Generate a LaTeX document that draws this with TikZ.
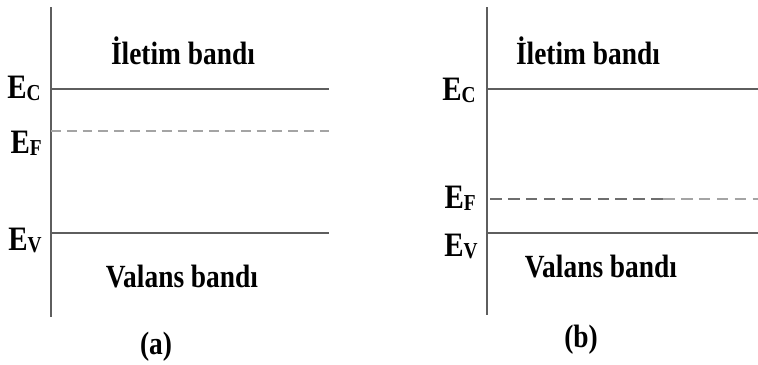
\documentclass[tikz,border=0pt]{standalone}
\usepackage{fontspec}
\setmainfont{Liberation Serif}
\definecolor{axisgray}{HTML}{5E5E5E}
\definecolor{dashgray}{HTML}{A4A4A4}
\definecolor{dashdark}{HTML}{6E6E6E}
\newcommand{\enlev}[1]{E\raisebox{-1.2pt}{\fontsize{11}{11}\selectfont #1}}

\begin{document}
\begin{tikzpicture}[x=0.02cm, y=-0.02cm,
    txt/.style={font=\fontsize{15.6}{18}\selectfont\bfseries, inner sep=0pt, yscale=1.18, transform shape},
    lvl/.style={txt, font=\fontsize{16.5}{18}\selectfont\bfseries, anchor=base east},
    band/.style={txt, anchor=base},
    axis/.style={draw=axisgray, line width=1.1pt},
    level/.style={draw=axisgray, line width=0.9pt},
    fermi/.style={draw=dashgray, line width=0.9pt, dash pattern=on 5.6pt off 3.4pt}]
  \useasboundingbox (0,0) rectangle (758,365);

  % (a)
  \coordinate (topA) at (51,7);
  \coordinate (botA) at (51,317);
  \coordinate (cA) at (51,89);
  \coordinate (cAe) at (329,89);
  \coordinate (fA) at (51,131);
  \coordinate (fAe) at (329,131);
  \coordinate (vA) at (51,233);
  \coordinate (vAe) at (329,233);
  \draw[axis] (topA) -- (botA);
  \draw[level] (cA) -- (cAe);
  \draw[fermi] (fA) -- (fAe);
  \draw[level] (vA) -- (vAe);
  \node[lvl] (ecA) at (41,98) {\enlev{C}};
  \node[lvl] (efA) at (42,153) {\enlev{F}};
  \node[lvl] (evA) at (42,250) {\enlev{V}};
  \node[band] (iletA) at (183,64) {İletim bandı};
  \node[band] (valA) at (182,287) {Valans bandı};
  \node[band] (capA) at (156,354) {(a)};

  % (b)
  \coordinate (topB) at (487,7);
  \coordinate (botB) at (487,315);
  \coordinate (cB) at (487,89);
  \coordinate (cBe) at (758,89);
  \coordinate (fB) at (490,199);
  \coordinate (fBm) at (663,199);
  \coordinate (fBe) at (758,199);
  \coordinate (vB) at (487,233);
  \coordinate (vBe) at (758,233);
  \draw[axis] (topB) -- (botB);
  \draw[level] (cB) -- (cBe);
  \draw[fermi, draw=dashdark, line width=1.1pt, dash pattern=on 6.6pt off 3.6pt] (fB) -- (fBm);
  \draw[fermi, line width=1.1pt, dash pattern=on 6.6pt off 3.6pt] (fBm) -- (fBe);
  \draw[level] (vB) -- (vBe);
  \node[lvl] (ecB) at (476,100) {\enlev{C}};
  \node[lvl] (efB) at (476,208) {\enlev{F}};
  \node[lvl] (evB) at (478,256) {\enlev{V}};
  \node[band] (iletB) at (588,64) {İletim bandı};
  \node[band] (valB) at (601,277) {Valans bandı};
  \node[band] (capB) at (581,347) {(b)};
\end{tikzpicture}
\end{document}
